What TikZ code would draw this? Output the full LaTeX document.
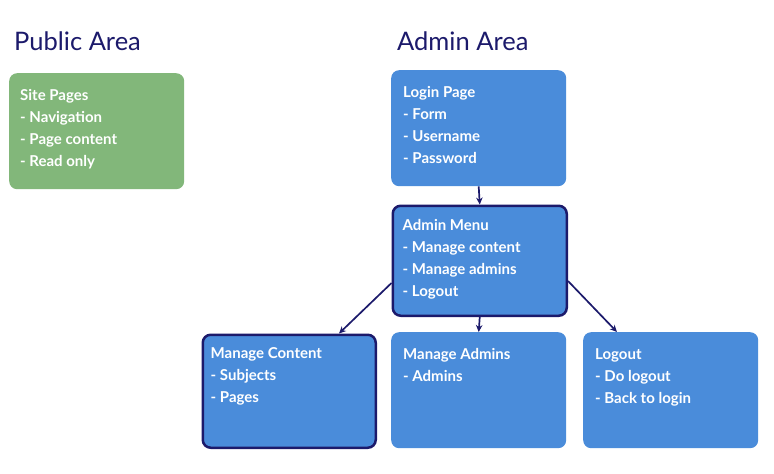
\documentclass[tikz,border=0pt]{standalone}
\usepackage{fontspec}
\setmainfont{Lato}
\usetikzlibrary{positioning,arrows.meta}

\definecolor{boxblue}{HTML}{4A8CDA}
\definecolor{sitegreen}{HTML}{82B77A}
\definecolor{navy}{HTML}{1C1A6B}

\begin{document}
\begin{tikzpicture}[x=1pt,y=-1pt,
    pagebox/.style={rounded corners=8pt, anchor=north west, inner sep=0pt,
        minimum width=175pt, minimum height=116pt},
    menubox/.style={pagebox, draw=navy, line width=2.5pt},
    boxtext/.style={anchor=north west, inner sep=0pt, align=left, text=white,
        font=\fontsize{15pt}{22pt}\selectfont\bfseries},
    areatitle/.style={anchor=base west, inner sep=0pt, text=navy,
        font=\fontsize{25.5pt}{30pt}\selectfont},
    link/.style={navy, line width=1.7pt, -{Stealth[length=7pt,width=6.5pt]}}]
    % Fix the size of the picture
    \useasboundingbox (0,0) rectangle (774,474);

    % Area titles
    \node[areatitle] (publictitle) at (14,50) {Public Area};
    \node[areatitle] (admintitle) at (397,50) {Admin Area};

    % Boxes
    \node[pagebox, fill=sitegreen] (site) at (9,73) {};
    \node[pagebox, fill=boxblue] (login) at (391,70) {};
    \node[menubox, fill=boxblue, minimum width=174pt, minimum height=110pt] (menu) at (391.5,204.5) {};
    \node[menubox, fill=boxblue, minimum width=173pt, minimum height=113pt] (content) at (201.5,333.5) {};
    \node[pagebox, fill=boxblue] (admins) at (391,332) {};
    \node[pagebox, fill=boxblue] (logout) at (583,332) {};

    % Box texts
    \node[boxtext] (sitetext) at ([shift={(11,16)}]site.north west)
        {Site Pages\\- Navigation\\- Page content\\- Read only};
    \node[boxtext] (logintext) at ([shift={(12,16)}]login.north west)
        {Login Page\\- Form\\- Username\\- Password};
    \node[boxtext] (menutext) at ([shift={(11,15)}]menu.north west)
        {Admin Menu\\- Manage content\\- Manage admins\\- Logout};
    \node[boxtext] (contenttext) at ([shift={(9,14)}]content.north west)
        {Manage Content\\- Subjects\\- Pages};
    \node[boxtext] (adminstext) at ([shift={(12,16)}]admins.north west)
        {Manage Admins\\- Admins};
    \node[boxtext] (logouttext) at ([shift={(12,16)}]logout.north west)
        {Logout\\- Do logout\\- Back to login};

    % Arrows
    \draw[link] (login.south) -- (menu.north);
    \draw[link] (menu.south) -- (admins.north);
    \draw[link] ([yshift=34pt]menu.south west) -- ([xshift=-38pt]content.north east);
    \draw[link] ([yshift=36pt]menu.south east) -- ([xshift=34pt]logout.north west);
\end{tikzpicture}
\end{document}
